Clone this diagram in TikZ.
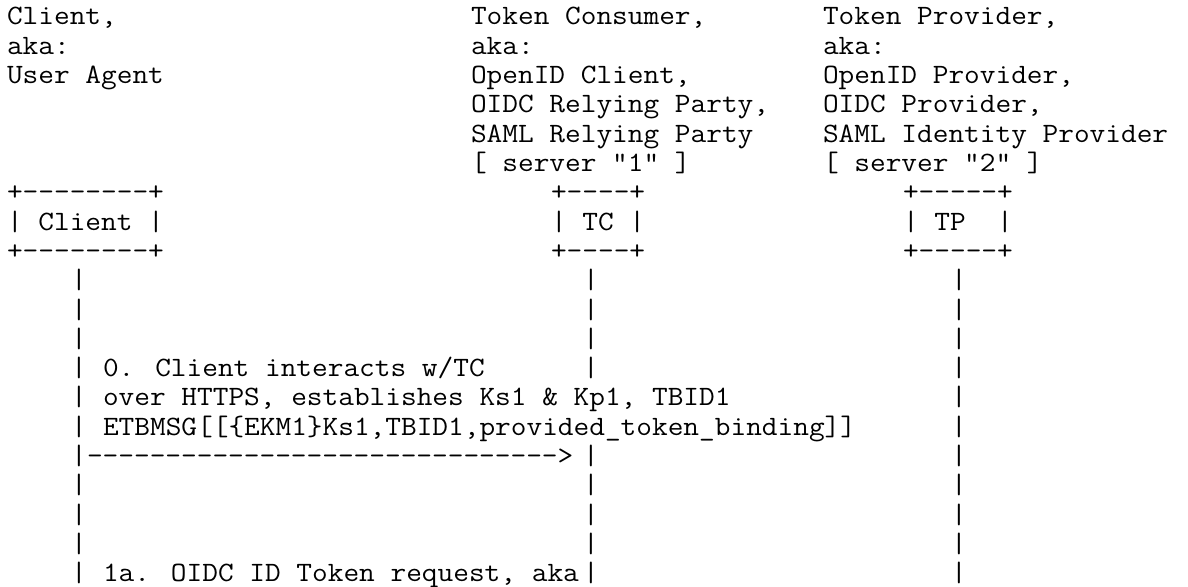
\documentclass[tikz,border=0pt]{standalone}
\usepackage{fontspec}
% Courier-like fixed pitch: 16pt per column, 29.3pt per row
\newfontfamily\asciifont{Latin Modern Mono}[FakeStretch=1.088]
\begin{document}
\begin{tikzpicture}[
  x=16pt, y=-29.3pt,
  ascii/.style={anchor=base west, inner sep=0pt, outer sep=0pt, text=black,
    font=\asciifont\fontsize{28pt}{29.3pt}\selectfont},
]
\useasboundingbox (0pt,0pt) rectangle (1188pt,-586pt);
\begin{scope}[shift={(7pt,-25pt)}]
  % participant captions
  \node[ascii] (cl0) at (0,0) {Client,};
  \node[ascii] (tc0) at (29,0) {Token Consumer,};
  \node[ascii] (tp0) at (51,0) {Token Provider,};
  \node[ascii] (cl1) at (0,1) {aka:};
  \node[ascii] (tc1) at (29,1) {aka:};
  \node[ascii] (tp1) at (51,1) {aka:};
  \node[ascii] (cl2) at (0,2) {User Agent};
  \node[ascii] (tc2) at (29,2) {OpenID Client,};
  \node[ascii] (tp2) at (51,2) {OpenID Provider,};
  \node[ascii] (tc3) at (29,3) {OIDC Relying Party,};
  \node[ascii] (tp3) at (51,3) {OIDC Provider,};
  \node[ascii] (tc4) at (29,4) {SAML Relying Party};
  \node[ascii] (tp4) at (51,4) {SAML Identity Provider};
  \node[ascii] (tc5) at (29,5) {[ server "1" ]};
  \node[ascii] (tp5) at (51,5) {[ server "2" ]};
  % participant boxes
  \node[ascii] (clTop) at (0,6) {+--------+};
  \node[ascii] (tcTop) at (34,6) {+----+};
  \node[ascii] (tpTop) at (56,6) {+-----+};
  \node[ascii] (clBox) at (0,7) {|~Client~|};
  \node[ascii] (tcBox) at (34,7) {|~TC~|};
  \node[ascii] (tpBox) at (56,7) {|~TP~~|};
  \node[ascii] (clBot) at (0,8) {+--------+};
  \node[ascii] (tcBot) at (34,8) {+----+};
  \node[ascii] (tpBot) at (56,8) {+-----+};
  % lifelines
  \foreach \r in {9,...,19} {
    \node[ascii] (lc\r) at (4,\r) {|};
    \node[ascii] (lp\r) at (59,\r) {|};
  }
  \foreach \r in {9,10,11,12,15,16,17,18,19}
    \node[ascii] (lt\r) at (36,\r) {|};
  % step 0
  \node[ascii] (m0a) at (6,12) {0. Client interacts w/TC};
  \node[ascii] (m0b) at (6,13) {over HTTPS, establishes Ks1 \& Kp1, TBID1};
  \node[ascii] (m0c) at (6,14) {ETBMSG[[\{EKM1\}Ks1,TBID1,provided\_token\_binding]]};
  \node[ascii] (m0arrow) at (5,15) {------------------------------>};
  % step 1a
  \node[ascii] (m1a) at (6,19) {1a. OIDC ID Token request, aka};
\end{scope}
\end{tikzpicture}
\end{document}
